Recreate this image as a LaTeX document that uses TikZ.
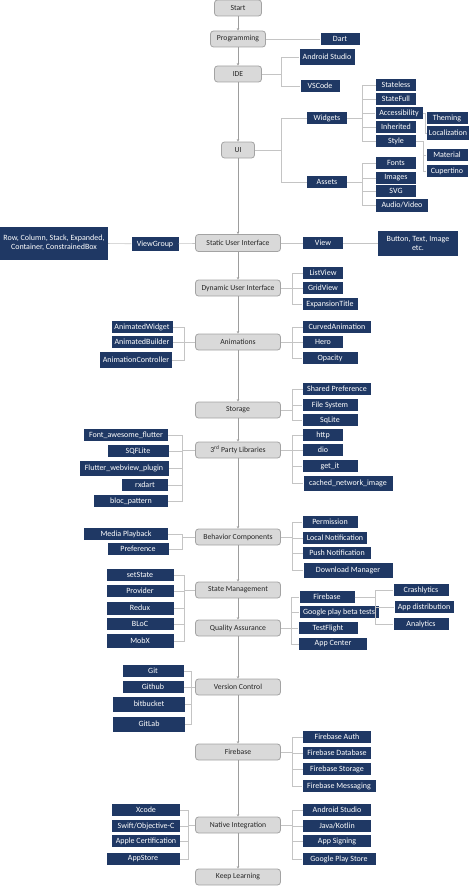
\documentclass[tikz,border=0pt]{standalone}
\usepackage{fontspec}
\setmainfont{Carlito}
\usepackage{xcolor}
\usetikzlibrary{positioning,arrows.meta}
\definecolor{navybox}{HTML}{1F3864}
\definecolor{stepfill}{HTML}{D9D9D9}
\definecolor{stepline}{HTML}{A3A3A3}
\definecolor{linkgray}{HTML}{C4C4C4}

\begin{document}
\begin{tikzpicture}[
  x=1pt, y=-1pt,
  font=\fontsize{8}{9}\selectfont,
  stepbox/.style={draw=stepline, fill=stepfill, rounded corners=3pt, line width=0.8pt, minimum height=16pt, minimum width=85pt, inner sep=1pt, text=black!85, font=\fontsize{7.7}{9}\selectfont},
  leaf/.style={fill=navybox, text=white, minimum height=12pt, inner sep=1pt, align=center},
  link/.style={draw=linkgray, line width=0.6pt},
  mainlink/.style={draw=linkgray!80!black, line width=0.6pt, -{Stealth[length=2.5pt,width=2.5pt]}},
]
\useasboundingbox (0,0) rectangle (474,888);

% Main column, top to bottom
\node[stepbox, minimum width=47pt] (start) at (238,8) {Start};
\node[stepbox, minimum width=55pt] (prog) at (238,39) {Programming};
\node[stepbox, minimum width=47pt] (ide) at (238,74) {IDE};
\node[stepbox, minimum width=33pt] (ui) at (238,150) {UI};
\node[stepbox, minimum height=17pt] (sui) at (238,243) {Static User Interface};
\node[stepbox] (dui) at (238,288) {Dynamic User Interface};
\node[stepbox] (ani) at (238,342) {Animations};
\node[stepbox] (sto) at (238,410) {Storage};
\node[stepbox] (lib) at (238,450) {3\textsuperscript{rd} Party Libraries};
\node[stepbox] (beh) at (238,537) {Behavior Components};
\node[stepbox] (stm) at (238,590) {State Management};
\node[stepbox] (qa) at (238,628) {Quality Assurance};
\node[stepbox] (vc) at (238,687) {Version Control};
\node[stepbox] (fb) at (238,752) {Firebase};
\node[stepbox] (nat) at (238,825) {Native Integration};
\node[stepbox] (keep) at (238,877) {Keep Learning};

% Spine
\draw[mainlink] (start) -- (prog);
\draw[mainlink] (prog) -- (ide);
\draw[mainlink] (ide) -- (ui);
\draw[mainlink] (ui) -- (sui);
\draw[mainlink] (sui) -- (dui);
\draw[mainlink] (dui) -- (ani);
\draw[mainlink] (ani) -- (sto);
\draw[mainlink] (sto) -- (lib);
\draw[mainlink] (lib) -- (beh);
\draw[mainlink] (beh) -- (stm);
\draw[mainlink] (stm) -- (qa);
\draw[mainlink] (qa) -- (vc);
\draw[mainlink] (vc) -- (fb);
\draw[mainlink] (fb) -- (nat);
\draw[mainlink] (nat) -- (keep);

% Programming and IDE
\node[leaf, minimum width=39pt] (dart) at (340,39) {Dart};
\node[leaf, minimum width=55pt, minimum height=16pt] (andst) at (327,57) {Android Studio};
\node[leaf, minimum width=39pt] (vscode) at (320,86) {VSCode};
\draw[link] (prog) -- (dart);
\coordinate (idebus) at (281,74);
\draw[link] (ide) -- (idebus) |- (andst) (idebus) |- (vscode);

% UI branch
\node[leaf, minimum width=40pt] (widgets) at (327,118) {Widgets};
\node[leaf, minimum width=40pt] (assets) at (327,182) {Assets};
\coordinate (uibus) at (281,150);
\draw[link] (ui) -- (uibus) |- (widgets) (uibus) |- (assets);

\node[leaf, minimum width=40pt] (stateless) at (396,85) {Stateless};
\node[leaf, minimum width=40pt] (statefull) at (396,99) {StateFull};
\node[leaf, minimum width=47pt] (access) at (399,113) {Accessibility};
\node[leaf, minimum width=40pt] (inherited) at (396,127) {Inherited};
\node[leaf, minimum width=40pt] (style) at (396,141) {Style};
\coordinate (widgbus) at (362,118);
\draw[link] (widgets) -- (widgbus) |- (stateless) (widgbus) |- (statefull)
  (widgbus) |- (access) (widgbus) |- (inherited) (widgbus) |- (style);

\node[leaf, minimum width=41pt] (theming) at (447,118) {Theming};
\node[leaf, minimum width=42pt, minimum height=13pt] (local) at (448,133) {Localization};
\node[leaf, minimum width=41pt] (material) at (447,155) {Material};
\node[leaf, minimum width=41pt] (cupertino) at (447,171) {Cupertino};
\coordinate (accbus) at (425,113);
\draw[link] (access) -- (accbus) |- (theming) (accbus) |- (local);
\coordinate (stylebus) at (423,141);
\draw[link] (style) -- (stylebus) |- (material) (stylebus) |- (cupertino);

\node[leaf, minimum width=40pt] (fonts) at (396,163) {Fonts};
\node[leaf, minimum width=40pt] (images) at (396,178) {Images};
\node[leaf, minimum width=40pt] (svg) at (396,191) {SVG};
\node[leaf, minimum width=52pt, minimum height=13pt] (audio) at (402,205) {Audio/Video};
\coordinate (assbus) at (362,182);
\draw[link] (assets) -- (assbus) |- (fonts) (assbus) |- (images)
  (assbus) |- (svg) (assbus) |- (audio);

% Static and dynamic user interface
\node[leaf, minimum width=47pt, minimum height=14pt] (viewgroup) at (155,244) {ViewGroup};
\node[leaf, minimum width=108pt, minimum height=33pt] (rowbox) at (54,243) {Row, Column, Stack, Expanded,\\Container, ConstrainedBox};
\node[leaf, minimum width=40pt] (view) at (323,243) {View};
\node[leaf, minimum width=80pt, minimum height=25pt] (button) at (418,243) {Button, Text, Image\\etc.};
\draw[link] (sui) -- (viewgroup);
\draw[link] (viewgroup) -- (rowbox);
\draw[link] (sui) -- (view);
\draw[link] (view) -- (button);

\node[leaf, minimum width=40pt] (listview) at (323,273) {ListView};
\node[leaf, minimum width=40pt] (gridview) at (323,288) {GridView};
\node[leaf, minimum width=55pt] (expand) at (330,304) {ExpansionTitle};
\coordinate (duibus) at (292,288);
\draw[link] (dui) -- (duibus) |- (listview) (duibus) |- (gridview) (duibus) |- (expand);

% Animations
\node[leaf, minimum width=61pt] (animw) at (142,327) {AnimatedWidget};
\node[leaf, minimum width=61pt] (animb) at (142,342) {AnimatedBuilder};
\node[leaf, minimum width=72pt, minimum height=16pt] (animc) at (136,360) {AnimationController};
\coordinate (anibusl) at (184,342);
\draw[link] (ani) -- (anibusl) |- (animw) (anibusl) |- (animb) (anibusl) |- (animc);

\node[leaf, minimum width=68pt] (curved) at (337,327) {CurvedAnimation};
\node[leaf, minimum width=40pt] (hero) at (323,342) {Hero};
\node[leaf, minimum width=55pt] (opacity) at (330,358) {Opacity};
\coordinate (anibusr) at (292,342);
\draw[link] (ani) -- (anibusr) |- (curved) (anibusr) |- (hero) (anibusr) |- (opacity);

% Storage
\node[leaf, minimum width=68pt] (shared) at (337,389) {Shared Preference};
\node[leaf, minimum width=55pt] (filesys) at (330,405) {File System};
\node[leaf, minimum width=55pt] (sqlite) at (330,420) {SqLite};
\coordinate (stobus) at (292,410);
\draw[link] (sto) -- (stobus) |- (shared) (stobus) |- (filesys) (stobus) |- (sqlite);

% 3rd party libraries
\node[leaf, minimum width=84pt] (fontaw) at (126,435) {Font\_awesome\_flutter};
\node[leaf, minimum width=61pt] (sqflite) at (138,451) {SQFLite};
\node[leaf, minimum width=89pt, minimum height=15pt] (webview) at (124,468) {Flutter\_webview\_plugin};
\node[leaf, minimum width=46pt] (rxdart) at (145,485) {rxdart};
\node[leaf, minimum width=74pt] (bloc) at (131,501) {bloc\_pattern};
\coordinate (libbusl) at (182,450);
\draw[link] (lib) -- (libbusl) |- (fontaw) (libbusl) |- (sqflite)
  (libbusl) |- (webview) (libbusl) |- (rxdart) (libbusl) |- (bloc);

\node[leaf, minimum width=40pt] (http) at (323,435) {http};
\node[leaf, minimum width=40pt] (dio) at (323,450) {dio};
\node[leaf, minimum width=55pt] (getit) at (330,466) {get\_it};
\node[leaf, minimum width=89pt, minimum height=15pt] (cached) at (348,483) {cached\_network\_image};
\coordinate (libbusr) at (292,450);
\draw[link] (lib) -- (libbusr) |- (http) (libbusr) |- (dio)
  (libbusr) |- (getit) (libbusr) |- (cached);

% Behavior components
\node[leaf, minimum width=84pt] (media) at (126,534) {Media Playback};
\node[leaf, minimum width=61pt] (pref) at (138,549) {Preference};
\coordinate (behbusl) at (182,537);
\draw[link] (beh) -- (behbusl) |- (media) (behbusl) |- (pref);

\node[leaf, minimum width=55pt] (perm) at (330,522) {Permission};
\node[leaf, minimum width=64pt] (localnot) at (335,538) {Local Notification};
\node[leaf, minimum width=68pt] (pushnot) at (337,553) {Push Notification};
\node[leaf, minimum width=89pt, minimum height=15pt] (download) at (348,570) {Download Manager};
\coordinate (behbusr) at (292,537);
\draw[link] (beh) -- (behbusr) |- (perm) (behbusr) |- (localnot)
  (behbusr) |- (pushnot) (behbusr) |- (download);

% State management
\node[leaf, minimum width=67pt] (setstate) at (140,575) {setState};
\node[leaf, minimum width=67pt] (provider) at (140,591) {Provider};
\node[leaf, minimum width=67pt, minimum height=13pt] (redux) at (140,608) {Redux};
\node[leaf, minimum width=67pt] (blocs) at (140,624) {BLoC};
\node[leaf, minimum width=67pt, minimum height=14pt] (mobx) at (140,641) {MobX};
\coordinate (stmbus) at (184,590);
\draw[link] (stm) -- (stmbus) |- (setstate) (stmbus) |- (provider)
  (stmbus) |- (redux) (stmbus) |- (blocs) (stmbus) |- (mobx);

% Quality assurance
\node[leaf, minimum width=55pt] (qafire) at (327,597) {Firebase};
\node[leaf, minimum width=79pt] (gplay) at (339,612) {Google play beta tests};
\node[leaf, minimum width=59pt] (testfl) at (328,628) {TestFlight};
\node[leaf, minimum width=68pt] (appcenter) at (333,644) {App Center};
\coordinate (qabus) at (291,628);
\draw[link] (qa) -- (qabus) |- (qafire) (qabus) |- (gplay)
  (qabus) |- (testfl) (qabus) |- (appcenter);

\node[leaf, minimum width=55pt] (crash) at (421,590) {Crashlytics};
\node[leaf, minimum width=59pt] (appdist) at (424,607) {App distribution};
\node[leaf, minimum width=55pt] (analytics) at (421,624) {Analytics};
\coordinate (firebus) at (375,597);
\draw[link] (qafire) -- (firebus) |- (crash) (firebus) |- (appdist) (firebus) |- (analytics);

% Version control
\node[leaf, minimum width=61pt] (git) at (153,671) {Git};
\node[leaf, minimum width=61pt] (github) at (153,687) {Github};
\node[leaf, minimum width=72pt, minimum height=15pt] (bitbucket) at (149,704) {bitbucket};
\node[leaf, minimum width=72pt, minimum height=15pt] (gitlab) at (149,724) {GitLab};
\coordinate (vcbus) at (191,687);
\draw[link] (vc) -- (vcbus) |- (git) (vcbus) |- (github)
  (vcbus) |- (bitbucket) (vcbus) |- (gitlab);

% Firebase
\node[leaf, minimum width=68pt] (fbauth) at (337,737) {Firebase Auth};
\node[leaf, minimum width=68pt] (fbdb) at (337,753) {Firebase Database};
\node[leaf, minimum width=68pt] (fbstore) at (337,769) {Firebase Storage};
\node[leaf, minimum width=73pt] (fbmsg) at (339,786) {Firebase Messaging};
\coordinate (fbbus) at (292,752);
\draw[link] (fb) -- (fbbus) |- (fbauth) (fbbus) |- (fbdb)
  (fbbus) |- (fbstore) (fbbus) |- (fbmsg);

% Native integration
\node[leaf, minimum width=68pt] (xcode) at (146,810) {Xcode};
\node[leaf, minimum width=68pt] (swift) at (146,826) {Swift/Objective-C};
\node[leaf, minimum width=68pt] (applecert) at (146,841) {Apple Certification};
\node[leaf, minimum width=73pt] (appstore) at (143,859) {AppStore};
\coordinate (natbusl) at (188,825);
\draw[link] (nat) -- (natbusl) |- (xcode) (natbusl) |- (swift)
  (natbusl) |- (applecert) (natbusl) |- (appstore);

\node[leaf, minimum width=68pt] (natas) at (337,810) {Android Studio};
\node[leaf, minimum width=68pt] (javak) at (337,826) {Java/Kotlin};
\node[leaf, minimum width=68pt] (signing) at (337,841) {App Signing};
\node[leaf, minimum width=73pt] (gplaystore) at (339,859) {Google Play Store};
\coordinate (natbusr) at (292,825);
\draw[link] (nat) -- (natbusr) |- (natas) (natbusr) |- (javak)
  (natbusr) |- (signing) (natbusr) |- (gplaystore);

\end{tikzpicture}
\end{document}
